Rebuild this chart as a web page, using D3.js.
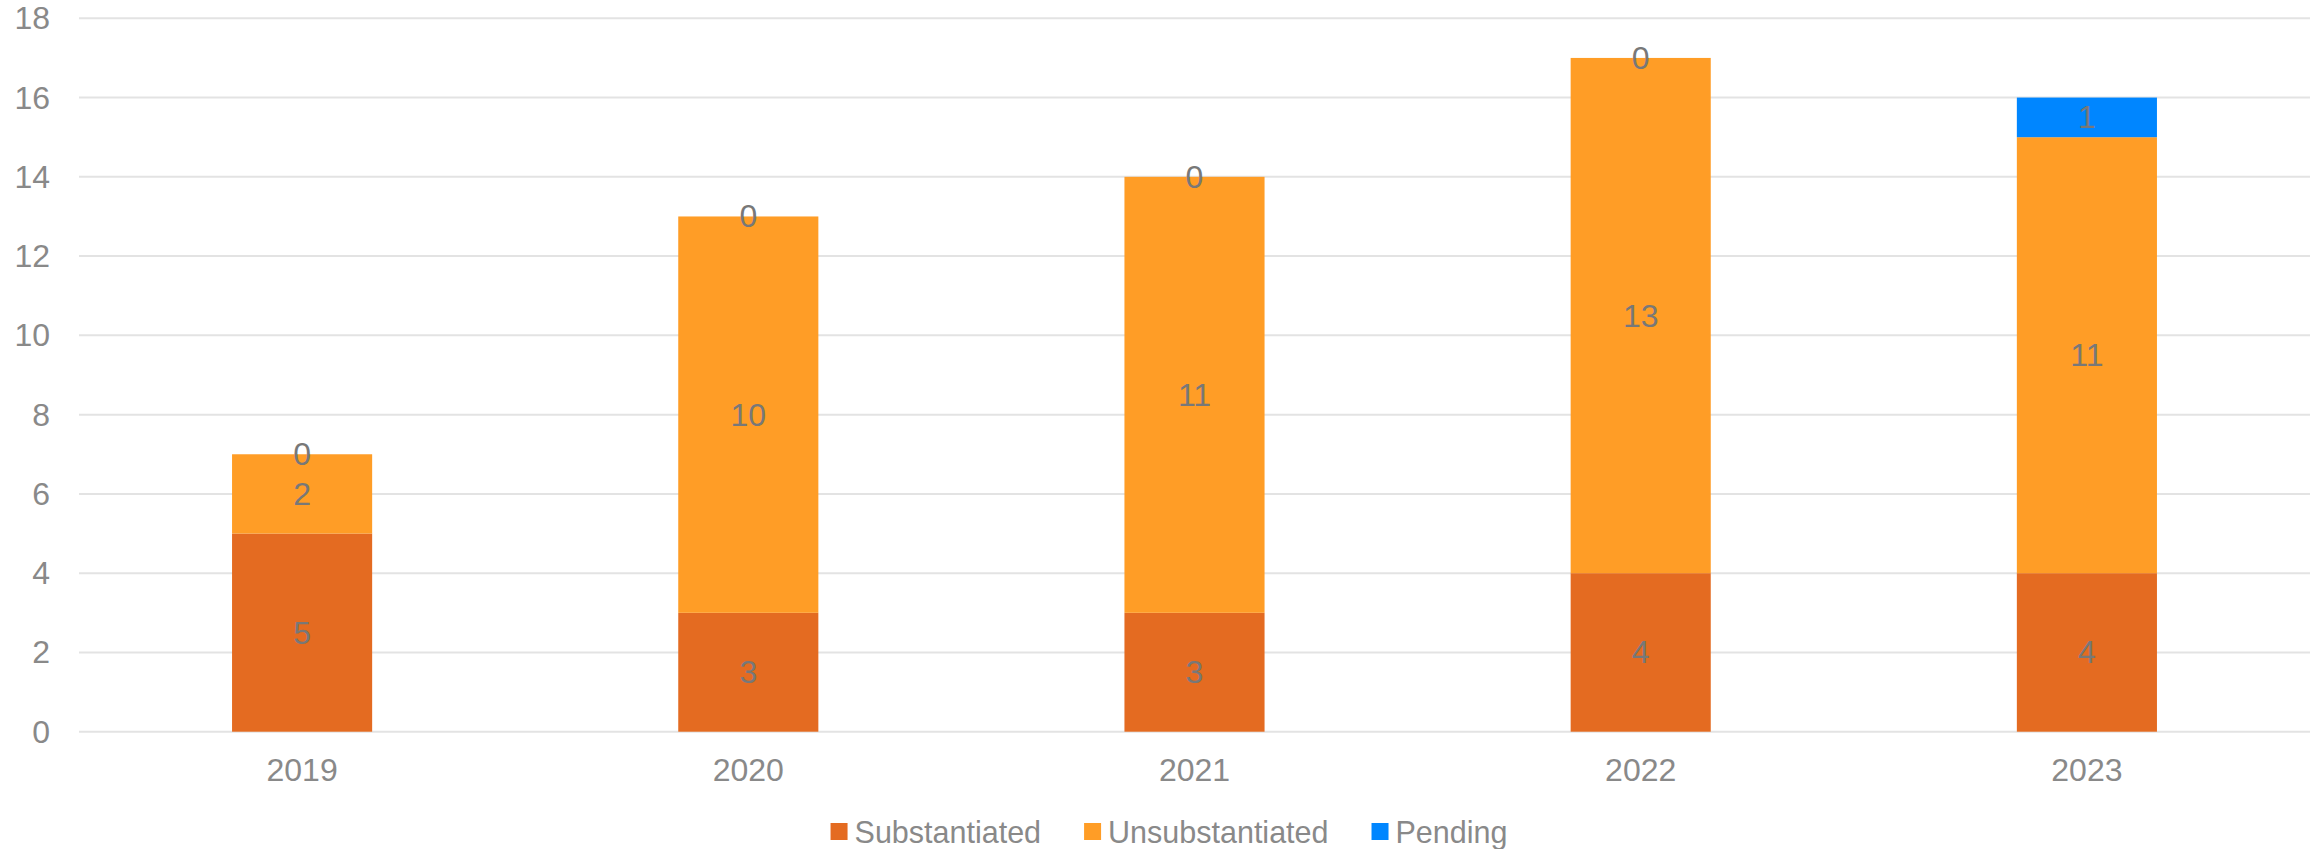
<!DOCTYPE html>
<html><head><meta charset="utf-8">
<script src="https://cdn.jsdelivr.net/npm/d3@7"></script>
<style>body{margin:0;background:#fff}svg{display:block}text{font-family:"Liberation Sans",Arial,sans-serif}</style>
</head><body><svg id="c" width="2323" height="849"></svg>
<script>
const years = ["2019","2020","2021","2022","2023"];
const seriesNames = ["Substantiated","Unsubstantiated","Pending"];
const substantiated = [5,3,3,4,4];
const unsubstantiated = [2,10,11,13,11];
const pending = [0,0,0,0,1];
const yTicks = [0,2,4,6,8,10,12,14,16,18];
const colors = ["#E46B21","#FF9D26","#0086FF"];

const svg = d3.select("#c");
const fs = 32;
const x = d3.scaleBand().domain(years).range([79,2310]).paddingInner(0.686).paddingOuter(0.343);
const y = d3.scaleLinear().domain([0,18]).range([731.7,18.3]);

// grid
svg.append("g").selectAll("line").data(yTicks).join("line")
  .attr("x1",79).attr("x2",2310).attr("y1",d=>y(d)).attr("y2",d=>y(d))
  .attr("stroke","#E3E3E3").attr("stroke-width",2);

// y labels
svg.append("g").selectAll("text").data(yTicks).join("text")
  .attr("x",50).attr("y",d=>y(d)).attr("text-anchor","end").attr("dominant-baseline","central")
  .attr("font-size",fs).attr("fill","#898989").text(d=>d);

const rows = years.map((yr,i)=>({year:yr,Substantiated:substantiated[i],Unsubstantiated:unsubstantiated[i],Pending:pending[i]}));
const stack = d3.stack().keys(seriesNames)(rows);

const g = svg.append("g");
stack.forEach((s,si)=>{
  g.append("g").selectAll("rect").data(s).join("rect")
    .attr("x",d=>x(d.data.year)).attr("width",x.bandwidth())
    .attr("y",d=>y(d[1])).attr("height",d=>y(d[0])-y(d[1]))
    .attr("fill",colors[si]);
});
stack.forEach((s,si)=>{
  g.append("g").selectAll("text").data(s).join("text")
    .attr("x",d=>x(d.data.year)+x.bandwidth()/2)
    .attr("y",d=>y((d[0]+d[1])/2))
    .attr("text-anchor","middle").attr("dominant-baseline","central")
    .attr("font-size",fs).attr("fill","#787878")
    .text(d=>d[1]-d[0]);
});

// x labels
svg.append("g").selectAll("text").data(years).join("text")
  .attr("x",d=>x(d)+x.bandwidth()/2).attr("y",770).attr("text-anchor","middle")
  .attr("dominant-baseline","central").attr("font-size",fs).attr("fill","#898989").text(d=>d);

// legend
const lg = svg.append("g");
const items = seriesNames.map((n,i)=>{
  const gi = lg.append("g");
  gi.append("rect").attr("width",17).attr("height",17).attr("y",823).attr("fill",colors[i]);
  const t = gi.append("text").attr("x",24).attr("y",832).attr("dominant-baseline","central")
    .attr("font-size",30.5).attr("fill","#898989").text(n);
  return {gi,w:24+t.node().getComputedTextLength()};
});
const gap = 43;
const total = d3.sum(items,d=>d.w)+gap*(items.length-1);
let cx = 1169 - total/2;
items.forEach(it=>{it.gi.attr("transform",`translate(${cx},0)`); cx += it.w+gap;});
</script></body></html>
